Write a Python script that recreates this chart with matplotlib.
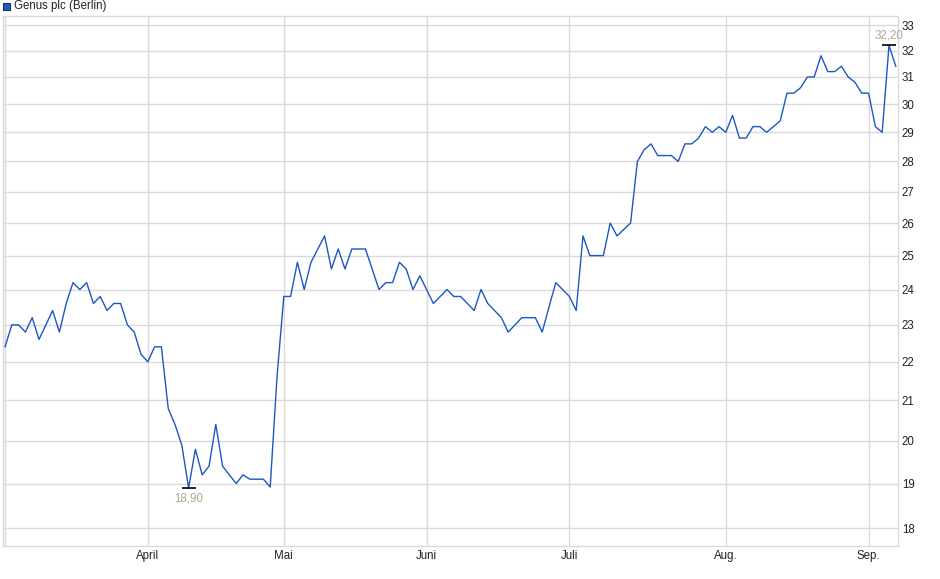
import numpy as np
import matplotlib
matplotlib.use("Agg")
import matplotlib.pyplot as plt
from matplotlib.patches import Rectangle
from matplotlib.ticker import FixedLocator, NullLocator, NullFormatter

matplotlib.rcParams.update({
    "font.family": ["Liberation Sans", "DejaVu Sans"],
    "font.size": 8.3,
})

# daily closing prices (EUR)
prices = [
    22.4, 23.0, 23.0, 22.8, 23.2, 22.6, 23.0, 23.4, 22.8, 23.6,
    24.2, 24.0, 24.2, 23.6, 23.8, 23.4, 23.6, 23.6, 23.0, 22.8,
    22.2, 22.0, 22.4, 22.4, 20.8, 20.4, 19.9, 18.9, 19.8, 19.2,
    19.4, 20.4, 19.4, 19.2, 19.0, 19.2, 19.1, 19.1, 19.1, 18.92,
    21.6, 23.8, 23.8, 24.8, 24.0, 24.8, 25.2, 25.6, 24.6, 25.2,
    24.6, 25.2, 25.2, 25.2, 24.6, 24.0, 24.2, 24.2, 24.8, 24.6,
    24.0, 24.4, 24.0, 23.6, 23.8, 24.0, 23.8, 23.8, 23.6, 23.4,
    24.0, 23.6, 23.4, 23.2, 22.8, 23.0, 23.2, 23.2, 23.2, 22.8,
    23.5, 24.2, 24.0, 23.8, 23.4, 25.6, 25.0, 25.0, 25.0, 26.0,
    25.6, 25.8, 26.0, 28.0, 28.4, 28.6, 28.2, 28.2, 28.2, 28.0,
    28.6, 28.6, 28.8, 29.2, 29.0, 29.2, 29.0, 29.6, 28.8, 28.8,
    29.2, 29.2, 29.0, 29.2, 29.4, 30.4, 30.4, 30.6, 31.0, 31.0,
    31.8, 31.2, 31.2, 31.4, 31.0, 30.8, 30.4, 30.4, 29.2, 29.0,
    32.2, 31.4,
]
month_idx    = [21, 41, 62, 83, 106, 127]
month_labels = ["April", "Mai", "Juni", "Juli", "Aug.", "Sep."]
y_ticks      = list(range(18, 34))
series_name  = "Genus plc (Berlin)"

prices = np.array(prices)
x = np.arange(len(prices))

W, H = 940, 579
fig = plt.figure(figsize=(W / 100, H / 100), dpi=100)
ax = fig.add_axes([2.7 / W, 1 - 545.7 / H, (898.3 - 2.7) / W, (545.7 - 16) / H])

ax.plot(x, prices, color="#1c57c4", lw=1.0, zorder=3)

ax.set_yscale("log")
ax.set_ylim(17.63, 33.36)
ax.set_xlim(-0.34, 131.37)

grid_c = "#dadada"
ax.yaxis.set_major_locator(FixedLocator(y_ticks))
ax.yaxis.set_minor_locator(NullLocator())
ax.yaxis.set_minor_formatter(NullFormatter())
ax.set_yticklabels([str(t) for t in y_ticks])
ax.yaxis.tick_right()
ax.set_xticks(month_idx)
ax.set_xticklabels(month_labels)
ax.tick_params(axis="both", length=0, colors="#222222")
ax.tick_params(axis="y", pad=2.5)
ax.tick_params(axis="x", pad=3)

ax.grid(True, color=grid_c, lw=1.0, zorder=0)
ax.axvline(0, color=grid_c, lw=1.0, zorder=0)
for s in ax.spines.values():
    s.set_color(grid_c)
    s.set_linewidth(1.0)

# min / max markers
i_min, i_max = int(np.argmin(prices)), int(np.argmax(prices))
for i, dy, va in [(i_min, -3.5, "top"), (i_max, 3, "bottom")]:
    ax.plot([x[i]], [prices[i]], marker="_", ms=10, mew=1.2, color="black", zorder=4)
    ax.annotate(f"{prices[i]:.2f}".replace(".", ","), (x[i], prices[i]),
                xytext=(0, dy), textcoords="offset points",
                ha="center", va=va, color="#b3a58f")

# legend entry
fig.add_artist(Rectangle((3.3 / W, 1 - 9.5 / H), 6.5 / W, 6.5 / H,
                         transform=fig.transFigure, facecolor="#2458c8",
                         edgecolor="#16306e", lw=0.8))
fig.text(14 / W, 1 - 6.5 / H, series_name, ha="left", va="center",
         color="#222222")

fig.savefig("out.png", dpi=100, facecolor="white")
